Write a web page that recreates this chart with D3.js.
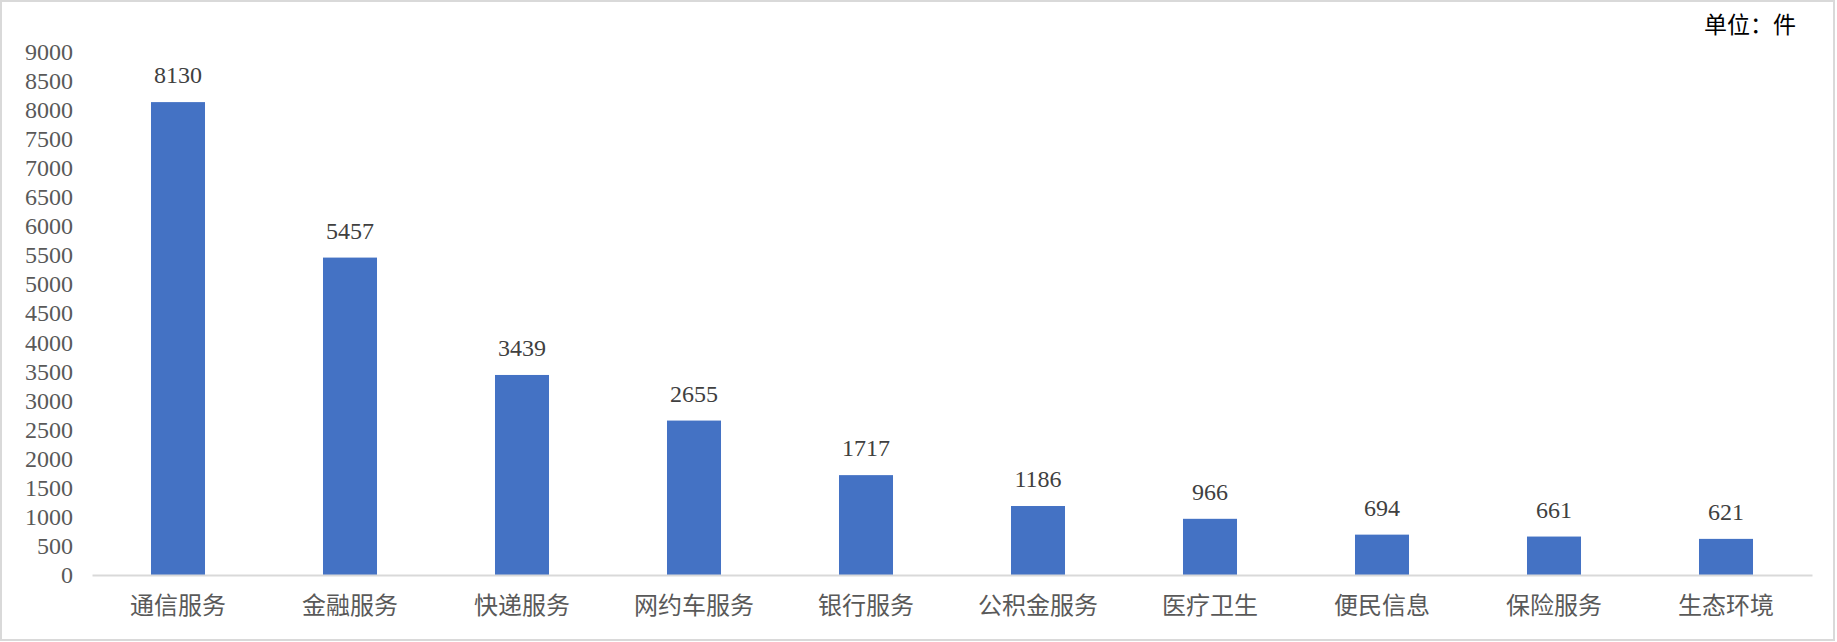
<!DOCTYPE html>
<html>
<head>
<meta charset="utf-8">
<script src="https://cdn.jsdelivr.net/npm/d3@7"></script>
<style>
  html, body { margin: 0; padding: 0; background: #fff; }
  svg { display: block; }
  .axis text { font-family: "Liberation Serif", "Times New Roman", "Noto Sans CJK SC", serif; }
</style>
</head>
<body>
<svg id="svg1" width="1837" height="642"></svg>
<script>
"use strict";

// chart data
const categories = ["通信服务", "金融服务", "快递服务", "网约车服务", "银行服务",
                    "公积金服务", "医疗卫生", "便民信息", "保险服务", "生态环境"];
const counts = [8130, 5457, 3439, 2655, 1717, 1186, 966, 694, 661, 621];
const yTicks = [0, 500, 1000, 1500, 2000, 2500, 3000, 3500, 4000, 4500,
                5000, 5500, 6000, 6500, 7000, 7500, 8000, 8500, 9000];
const unitLabel = "单位：件";

let svg = d3.select("#svg1");
let margin = {top: 51.5, left: 92, right: 25, bottom: 67};
let width = 1837 - margin.left - margin.right,
    height = 642 - margin.top - margin.bottom;

// outer frame
svg.append("rect")
   .attr("x", 1).attr("y", 1)
   .attr("width", 1833).attr("height", 639)
   .attr("fill", "#fff")
   .attr("stroke", "#d9d9d9")
   .attr("stroke-width", 2);

let g = svg.append("g").attr("transform", `translate(${margin.left},${margin.top})`);

let x = d3.scaleBand().domain(categories).range([0, width])
          .paddingInner(0.686).paddingOuter(0.343);
let y = d3.scaleLinear().domain([0, 9000]).range([height, 0]);

// y axis, no line, labels only
let yAxis = g.append("g")
   .attr("class", "axis axis-y")
   .call(d3.axisLeft(y).tickValues(yTicks).tickFormat(d3.format("d")).tickSize(0).tickPadding(19));
yAxis.select(".domain").remove();
yAxis.selectAll("text").attr("fill", "#595959").style("font-size", "24px");

// bars
g.selectAll(".bar")
  .data(counts)
  .enter().append("rect")
    .attr("class", "bar")
    .attr("x", (d, i) => x(categories[i]))
    .attr("y", d => y(d))
    .attr("width", x.bandwidth())
    .attr("height", d => height - y(d))
    .attr("fill", "#4472c4");

// x axis
let xAxis = g.append("g")
   .attr("class", "axis axis-x")
   .attr("transform", `translate(0,${height})`)
   .call(d3.axisBottom(x).tickSize(0).tickPadding(0));
xAxis.select(".domain").attr("stroke", "#d9d9d9").attr("stroke-width", 2);
xAxis.selectAll("text")
   .attr("y", 39).attr("dy", 0)
   .attr("fill", "#595959")
   .style("font-size", "24px");

// value labels
g.selectAll(".val")
  .data(counts)
  .enter().append("text")
    .attr("class", "val")
    .attr("x", (d, i) => x(categories[i]) + x.bandwidth() / 2)
    .attr("y", d => y(d) - 19)
    .attr("text-anchor", "middle")
    .attr("fill", "#404040")
    .style("font-family", "'Liberation Serif', 'Times New Roman', serif")
    .style("font-size", "24px")
    .text(d => d);

// unit label, top right
svg.append("text")
   .attr("x", 1796).attr("y", 33)
   .attr("text-anchor", "end")
   .attr("fill", "#000")
   .style("font-family", "'Noto Sans CJK SC', sans-serif")
   .style("font-size", "23px")
   .text(unitLabel);
</script>
</body>
</html>
